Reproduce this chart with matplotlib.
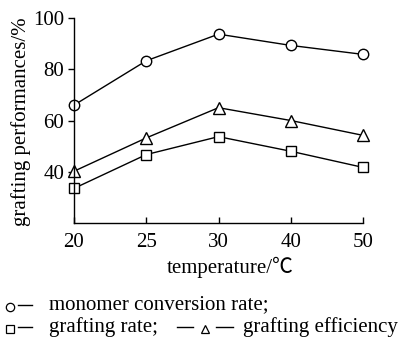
import matplotlib
matplotlib.use("Agg")
import matplotlib.pyplot as plt
from matplotlib.lines import Line2D

plt.rcParams['font.family'] = ['Liberation Serif', 'DejaVu Serif', 'Noto Sans CJK SC']

temps = ["20", "25", "30", "40", "50"]
conversion = [66.0, 83.3, 93.7, 89.3, 85.8]
grafting_eff = [40.2, 53.2, 65.0, 60.0, 54.2]
grafting_rate = [33.5, 46.7, 53.7, 48.0, 41.7]
yticks = [40, 60, 80, 100]

W, H = 400, 338
fig = plt.figure(figsize=(4.0, 3.38), dpi=100)
ax = fig.add_axes([74 / W, 1 - 223 / H, (363 - 74) / W, (223 - 18) / H])

x = list(range(len(temps)))
mk = dict(color='black', lw=1.0, mfc='white', mec='black', mew=1.0, clip_on=False)
ax.plot(x, conversion, marker='o', ms=7.5, **mk)
ax.plot(x, grafting_eff, marker='^', ms=8, **mk)
ax.plot(x, grafting_rate, marker='s', ms=7, **mk)

ax.set_xlim(0, 4)
ax.set_ylim(20, 100)
ax.set_xticks(x)
ax.set_xticklabels(temps)
ax.set_yticks(yticks)
ax.spines['top'].set_visible(False)
ax.spines['right'].set_visible(False)
for s in ('left', 'bottom'):
    ax.spines[s].set_linewidth(1.0)
ax.tick_params(axis='x', direction='in', length=4, width=1, labelsize=15, pad=7)
ax.tick_params(axis='y', direction='out', length=4, width=1, labelsize=15, pad=3)

fig.text(21 / W, 1 - 122 / H, 'grafting performances/%', rotation=90,
         ha='center', va='center', fontsize=15)
fig.text(230 / W, 1 - 267 / H, 'temperature/\u2103', ha='center', va='center',
         fontsize=15, family=['Liberation Serif', 'Noto Sans CJK SC'])

# legend rows
def fy(py):
    return 1 - py / H

def fx(px):
    return px / W

y1, y2 = 305, 327
fig.add_artist(Line2D([fx(10)], [fy(y1 + 2)], marker='o', ms=6, mfc='white', mec='black', mew=0.9, lw=0))
fig.add_artist(Line2D([fx(18), fx(32)], [fy(y1), fy(y1)], color='black', lw=1.0))
fig.text(fx(49), fy(y1), 'monomer conversion rate;', ha='left', va='center', fontsize=15)

fig.add_artist(Line2D([fx(10)], [fy(y2 + 2)], marker='s', ms=5.2, mfc='white', mec='black', mew=0.9, lw=0))
fig.add_artist(Line2D([fx(18), fx(32)], [fy(y2), fy(y2)], color='black', lw=1.0))
fig.text(fx(49), fy(y2), 'grafting rate;', ha='left', va='center', fontsize=15)
fig.add_artist(Line2D([fx(177), fx(193)], [fy(y2), fy(y2)], color='black', lw=1.0))
fig.add_artist(Line2D([fx(205)], [fy(y2 + 1.5)], marker='^', ms=6, mfc='white', mec='black', mew=0.9, lw=0))
fig.add_artist(Line2D([fx(216), fx(233)], [fy(y2), fy(y2)], color='black', lw=1.0))
fig.text(fx(243), fy(y2), 'grafting efficiency', ha='left', va='center', fontsize=15)

fig.savefig('out.png', dpi=100)
